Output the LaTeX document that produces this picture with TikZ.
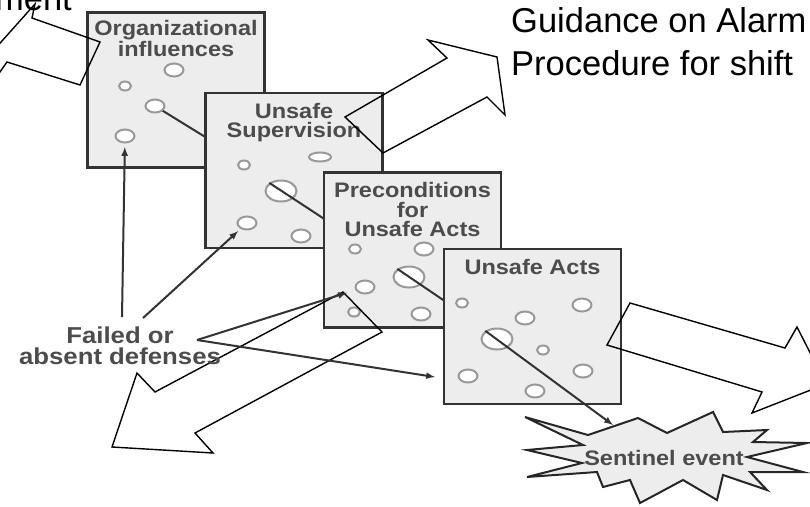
\documentclass[tikz,border=0pt]{standalone}
\usepackage{fontspec}
\setmainfont{Liberation Sans}
\newfontfamily\labelfont[FakeStretch=1.12]{Liberation Sans}
\usetikzlibrary{shapes.geometric}
\tikzstyle{layer}=[rectangle, draw=black!80, line width=2.5pt, fill=black!7, minimum width=177pt, minimum height=155pt, inner sep=0pt]
\tikzstyle{hole}=[ellipse, draw=black!40, line width=2pt, fill=white, inner sep=0pt, minimum width=19pt, minimum height=13pt]
\tikzstyle{shole}=[hole, minimum width=12pt, minimum height=9pt]
\tikzstyle{whole}=[hole, minimum width=22pt, minimum height=9pt]
\tikzstyle{bhole}=[hole, minimum width=31pt, minimum height=21pt]
\tikzstyle{labelsty}=[font=\labelfont\bfseries\fontsize{21}{19.5}\selectfont, text=black!70, align=center, inner sep=0pt]
\tikzstyle{notesty}=[font=\fontsize{34.5}{40}\selectfont, inner sep=0pt]
\tikzstyle{edge}=[line width=2pt, draw=black!80]
\tikzstyle{dedge}=[edge,-latex]
\tikzstyle{bigarrow}=[line width=1.4pt, line join=miter]

\begin{document}
\begin{tikzpicture}[x=1pt,y=-1pt]
	\path[use as bounding box, clip] (0,0) rectangle (810,506);

	% texts at the top
	\node[notesty, anchor=base east] (mgmt) at (72,10) {ment};
	\node[notesty, anchor=base west] (alarm) at (511,32) {Guidance on Alarm};
	\node[notesty, anchor=base west] (shift) at (511,75) {Procedure for shift};

	% layer 1
	\node[layer] (org) at (176,90) {};
	\node[labelsty, anchor=north] (orgt) at ([yshift=-9pt]org.north) {Organizational\\influences};
	\coordinate (e1) at (215,143);
	\draw[edge] (155,106) -- (e1);
	\node[hole] (h1a) at (174,70) {};
	\node[shole] (h1b) at (125,86) {};
	\node[hole] (h1c) at (155,106) {};
	\node[hole] (h1d) at (125,136) {};

	% layer 2
	\node[layer] (sup) at (294,170.5) {};
	\node[labelsty, anchor=north] (supt) at ([yshift=-11pt]sup.north) {Unsafe\\Supervision};
	\node[shole] (h2a) at (244,165) {};
	\node[whole] (h2b) at (320,157) {};
	\node[bhole] (h2c) at (281,191) {};
	\node[hole] (h2d) at (247,223) {};
	\node[hole] (h2e) at (301,236) {};
	\coordinate (e2) at (335,226);
	\draw[edge] (h2c.north west) -- (e2);

	% layer 3
	\node[layer] (pre) at (412.5,250) {};
	\node[labelsty, anchor=north] (pret) at ([yshift=-11pt]pre.north) {Preconditions\\for\\Unsafe Acts};
	\node[shole] (h3a) at (355,249) {};
	\node[hole] (h3b) at (424,249) {};
	\node[bhole] (h3c) at (409,277) {};
	\node[hole] (h3d) at (365,287) {};
	\node[shole] (h3e) at (354,312) {};
	\node[hole] (h3f) at (421,314) {};
	\coordinate (e3) at (455,308);
	\draw[edge] (h3c.north west) -- (e3);

	% layer 4
	\node[layer] (act) at (532.5,326.5) {};
	\node[labelsty, anchor=north] (actt) at ([yshift=-11pt]act.north) {Unsafe Acts};
	\node[shole] (h4a) at (462,303) {};
	\node[hole] (h4b) at (582,305) {};
	\node[hole] (h4c) at (525,318) {};
	\node[bhole] (h4d) at (497,339) {};
	\node[shole] (h4e) at (543,350) {};
	\node[hole] (h4f) at (468,376) {};
	\node[hole] (h4g) at (583,371) {};
	\node[hole] (h4h) at (535,391) {};

	% sentinel event
	\draw[line width=2pt, draw=black!85, fill=black!7, line join=miter]
		(525,417) -- (588,435) -- (638,418) -- (667,433) -- (713,412) -- (723,432)
		-- (767,430) -- (753,442) -- (807,443) -- (747,457) -- (803,472) -- (750,472)
		-- (767,490) -- (723,475) -- (717,500) -- (683,480) -- (640,503) -- (630,480)
		-- (603,487) -- (597,472) -- (527,477) -- (582,463) -- (527,450) -- (583,445) -- cycle;
	\node[labelsty] (sent) at (664,458) {Sentinel event};
	\coordinate (s1) at (613,425);
	\draw[dedge] (h4d.north west) -- (s1);

	% hollow arrows
	\draw[bigarrow] (100,42) -- (32,18) -- (35,4) -- (-15,60) -- (-5,79) -- (7,62) -- (80,85) -- cycle;
	\draw[bigarrow] (345,117) -- (447,58) -- (428,40) -- (497,57) -- (505,115) -- (487,97) -- (383,153) -- cycle;
	\draw[bigarrow] (607,345) -- (630,303) -- (785,348) -- (797,327) -- (826,384) -- (752,413) -- (762,392) -- cycle;
	\draw[bigarrow] (343,292) -- (155,392) -- (137,373) -- (112,447) -- (213,453) -- (195,433) -- (382,332) -- cycle;

	% failed defenses
	\node[labelsty, font=\labelfont\bfseries\fontsize{23}{21}\selectfont] (fail) at (120,345.5) {Failed or\\absent defenses};
	\coordinate (f1) at (122,317);
	\coordinate (f2) at (143,318);
	\coordinate (f3) at (197,340);
	\coordinate (a4) at (435,377);
	\draw[dedge, shorten >=11pt] (f1) -- (h1d.center);
	\draw[dedge, shorten >=12pt] (f2) -- (h2d.center);
	\draw[dedge, shorten >=19pt] (f3) -- (h3d.center);
	\draw[dedge] (f3) -- (a4);
\end{tikzpicture}
\end{document}
